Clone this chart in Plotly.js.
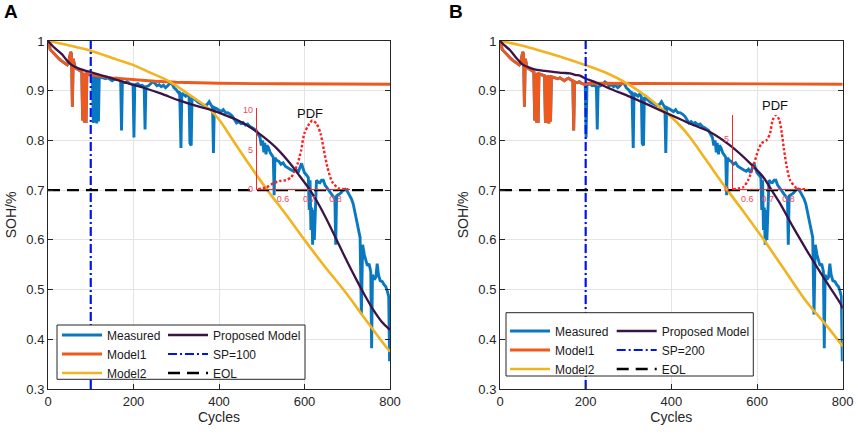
<!DOCTYPE html>
<html><head><meta charset="utf-8">
<script src="https://cdn.plot.ly/plotly-3.0.1.min.js"></script>
<style>html,body{margin:0;padding:0;background:#fff}#chart{width:858px;height:434px}</style>
</head><body><div id="chart"></div>
<script>
// ---------------- data ----------------
const measuredCycles = [0,3,5,8,12,16,20,25,30,35,40,45,48,51,53,55,57,59,61,63,66,70,75,79,81,83,85,87,89,91,95,100,
104,106,108,110,112,114,116,118,120,125,130,135,140,145,150,155,160,165,170,172,174,180,185,190,195,199,201,203,
210,215,220,225,227,229,235,240,245,250,255,260,265,270,275,280,285,290,295,300,305,308,311,313,318,322,326,330,
332,335,337,342,347,352,357,362,367,372,377,381,385,387,389,394,400,405,410,415,420,426,432,437,441,446,451,456,
462,467,472,477,482,487,492,496,499,502,505,507,510,512,516,520,524,527,529,531,535,540,545,550,555,560,565,570,
575,580,585,590,593,596,600,605,609,611,613,615,617,619,621,623,625,628,632,636,640,644,648,652,656,660,665,669,
671,673,675,677,682,686,690,695,700,705,710,714,718,722,726,730,733,736,740,743,747,751,755,757,759,763,767,770,
773,777,782,786,790,794,797,799,800];
const measuredSOH = [1.000,0.994,0.983,0.980,0.976,0.972,0.968,0.965,0.961,0.958,0.955,0.952,0.956,0.970,0.978,0.974,0.868,0.964,0.955,0.948,0.945,0.942,0.940,0.938,0.840,0.936,0.836,0.935,0.835,0.934,0.933,0.932,
0.930,0.835,0.930,0.836,0.931,0.834,0.930,0.838,0.928,0.927,0.925,0.924,0.926,0.922,0.920,0.923,0.925,0.922,0.920,0.820,0.918,0.916,0.918,0.915,0.913,0.912,0.806,0.912,
0.914,0.910,0.911,0.908,0.822,0.908,0.910,0.915,0.918,0.915,0.910,0.912,0.908,0.911,0.906,0.910,0.915,0.914,0.906,0.902,0.896,0.898,0.785,0.895,0.892,0.889,0.893,0.888,
0.794,0.790,0.887,0.884,0.880,0.876,0.874,0.873,0.870,0.872,0.878,0.872,0.866,0.775,0.866,0.864,0.860,0.858,0.862,0.856,0.856,0.853,0.848,0.842,0.835,0.838,0.834,0.836,
0.831,0.833,0.828,0.826,0.822,0.820,0.812,0.806,0.790,0.800,0.776,0.795,0.772,0.790,0.785,0.775,0.770,0.766,0.690,0.765,0.760,0.758,0.752,0.755,0.748,0.745,0.742,0.740,
0.738,0.742,0.735,0.748,0.754,0.745,0.735,0.730,0.725,0.660,0.720,0.620,0.665,0.590,0.660,0.600,0.665,0.720,0.716,0.715,0.720,0.720,0.710,0.705,0.700,0.695,0.690,0.685,
0.685,0.590,0.688,0.690,0.692,0.695,0.700,0.702,0.698,0.690,0.682,0.672,0.655,0.640,0.625,0.605,0.450,0.590,0.570,0.560,0.548,0.552,0.536,0.382,0.530,0.520,0.525,0.552,
0.530,0.518,0.516,0.510,0.506,0.496,0.486,0.356,0.465];

const startPoints = [100, 200];          // SP for panel A and B
const eolLevel = 0.7;

// Model1: forecast part after the start point
const model1ForecastA_x = [100,150,200,250,300,400,550,800];
const model1ForecastA_y = [0.932,0.926,0.922,0.919,0.917,0.915,0.914,0.913];
const model1ForecastB_x = [200,400,800];
const model1ForecastB_y = [0.915,0.914,0.913];

// Model2
const model2A_x = [0,50,98,160,199,240,285,332,379,400,433,472,513,555,600,645,691,735,777,800];
const model2A_y = [1.0,0.991,0.981,0.963,0.952,0.936,0.918,0.891,0.862,0.842,0.80,0.75,0.70,0.653,0.60,0.549,0.50,0.449,0.40,0.375];
const model2B_x = [0,50,100,150,198,250,296,340,381,420,443,480,531,570,611,660,716,760,800];
const model2B_y = [1.0,0.991,0.979,0.966,0.952,0.935,0.915,0.89,0.861,0.83,0.807,0.762,0.70,0.655,0.606,0.545,0.475,0.43,0.386];

// Proposed model
const proposedA_x = [0,12,25,33,44,55,71,85,102,125,149,190,227,265,305,345,383,414,440,470,504,535,566,589,613,636,660,683,700,722,740,761,780,800];
const proposedA_y = [1.0,0.989,0.979,0.973,0.961,0.952,0.945,0.941,0.937,0.931,0.925,0.914,0.905,0.894,0.881,0.87,0.861,0.851,0.842,0.828,0.807,0.784,0.754,0.728,0.70,0.667,0.627,0.586,0.556,0.519,0.49,0.459,0.436,0.419];
const proposedB_x = [0,12,23,38,54,70,86,105,124,145,163,175,188,198,226,260,303,340,381,420,443,490,537,584,614,634,654,684,716,754,794,800];
const proposedB_y = [1.0,0.99,0.982,0.966,0.952,0.946,0.942,0.94,0.938,0.936,0.935,0.932,0.93,0.925,0.916,0.903,0.888,0.874,0.858,0.843,0.834,0.817,0.79,0.754,0.727,0.70,0.673,0.626,0.579,0.526,0.473,0.462];

// PDF insets
const pdfA_x = [0.506,0.537,0.563,0.587,0.612,0.631,0.643,0.656,0.669,0.681,0.70,0.712,0.728,0.743,0.756,0.769,0.787,0.812,0.849];
const pdfA_y = [0,0.25,0.75,1.04,1.16,1.5,2.2,3.25,4.9,7.0,8.25,8.66,8.25,7.0,4.9,2.8,0.95,0.12,0];
const pdfB_x = [0.532,0.58,0.605,0.629,0.654,0.67,0.695,0.711,0.724,0.74,0.756,0.768,0.779,0.792,0.808,0.841,0.89];
const pdfB_y = [0,0.2,0.93,2.26,3.93,4.6,4.93,5.6,6.93,7.43,6.93,5.6,3.93,2.26,0.93,0.1,0];

const xTicks = [0,200,400,600,800];
const yTicks = [0.3,0.4,0.5,0.6,0.7,0.8,0.9,1];
const pdfTicksX = [0.6,0.7,0.8];
const pdfTicksYA = [0,5,10];
const pdfTicksYB = [0,5];

// ---------------- styling ----------------
const W = 858, H = 434;
const px = v => v / W;
const py = v => 1 - v / H;
const C = {meas:'#0A78C0', m1:'#EE5A1E', m2:'#F2B320', prop:'#3A1445', sp:'#0014F0', eol:'#000000', pdf:'#FF1E1E'};
const FONT = 'Liberation Sans, Arial, Helvetica, sans-serif';

function measuredUpTo(sp){
  const xs=[], ys=[];
  measuredCycles.forEach((c,i)=>{ if(c<=sp){ xs.push(c); ys.push(measuredSOH[i]); } });
  return [xs, ys];
}

function panelTraces(k){
  const ax = k===0 ? 'x' : 'x2', ay = k===0 ? 'y' : 'y2';
  const lg1 = k===0 ? 'legend' : 'legend3', lg2 = k===0 ? 'legend2' : 'legend4';
  const sp = startPoints[k];
  const [hx, hy] = measuredUpTo(sp);
  const fx = k===0 ? model1ForecastA_x : model1ForecastB_x;
  const fy = k===0 ? model1ForecastA_y : model1ForecastB_y;
  return [
    {x:measuredCycles, y:measuredSOH, name:'Measured', legend:lg1, xaxis:ax, yaxis:ay, mode:'lines', line:{color:C.meas, width:2.9}},
    {x:hx.concat(fx), y:hy.concat(fy), name:'Model1', legend:lg1, xaxis:ax, yaxis:ay, mode:'lines', line:{color:C.m1, width:2.8}},
    {x:k===0?model2A_x:model2B_x, y:k===0?model2A_y:model2B_y, name:'Model2', legend:lg1, xaxis:ax, yaxis:ay, mode:'lines', line:{color:C.m2, width:2.6, shape:'spline', smoothing:1}},
    {x:k===0?proposedA_x:proposedB_x, y:k===0?proposedA_y:proposedB_y, name:'Proposed Model', legend:lg2, xaxis:ax, yaxis:ay, mode:'lines', line:{color:C.prop, width:2.3, shape:'spline', smoothing:0.8}},
    {x:[sp, sp], y:[yTicks[0], yTicks[yTicks.length-1]], name:'SP='+sp, legend:lg2, xaxis:ax, yaxis:ay, mode:'lines', line:{color:C.sp, width:2.2, dash:'9px,3px,2px,3px'}},
    {x:[xTicks[0], xTicks[xTicks.length-1]], y:[eolLevel, eolLevel], name:'EOL', legend:lg2, xaxis:ax, yaxis:ay, mode:'lines', line:{color:C.eol, width:2.4, dash:'12px,7px'}}
  ];
}

const data = panelTraces(0).concat(panelTraces(1)).concat([
  {x:pdfA_x, y:pdfA_y, xaxis:'x3', yaxis:'y3', mode:'lines', showlegend:false, name:'PDF', line:{color:C.pdf, width:2.4, dash:'2.5px,2px', shape:'spline', smoothing:0.7}},
  {x:pdfB_x, y:pdfB_y, xaxis:'x4', yaxis:'y4', mode:'lines', showlegend:false, name:'PDF', line:{color:C.pdf, width:2.4, dash:'2.5px,2px', shape:'spline', smoothing:0.7}}
]);

function mainX(dom, anchor){
  return {domain:dom, anchor:anchor, range:[0,800], tickvals:xTicks, ticks:'inside', ticklen:5, tickcolor:'#262626',
    showline:true, mirror:'ticks', linecolor:'#262626', linewidth:1, showgrid:true, gridcolor:'#E4E4E4', zeroline:false,
    tickfont:{size:13, color:'#262626'}, title:{text:'Cycles', font:{size:14, color:'#262626'}, standoff:4}};
}
function mainY(dom, anchor){
  return {domain:dom, anchor:anchor, range:[0.3,1], tickvals:yTicks, ticks:'inside', ticklen:5, tickcolor:'#262626',
    showline:true, mirror:'ticks', linecolor:'#262626', linewidth:1, showgrid:true, gridcolor:'#E4E4E4', zeroline:false,
    tickfont:{size:13, color:'#262626'}, title:{text:'SOH/%', font:{size:14, color:'#262626'}, standoff:6}};
}
function insetX(dom, anchor, range){
  return {domain:dom, anchor:anchor, range:range, tickvals:pdfTicksX, ticks:'', showline:true, linecolor:'#EE2A2A', linewidth:1,
    showgrid:false, zeroline:false, tickfont:{size:9, color:'#EE4A5E'}, ticklabelstandoff:1};
}
function insetY(dom, anchor, range, tv){
  return {domain:dom, anchor:anchor, range:range, tickvals:tv, ticks:'', showline:true, linecolor:'#EE2A2A', linewidth:1,
    showgrid:false, zeroline:false, tickfont:{size:9, color:'#EE4A5E'}, ticklabelstandoff:1};
}
function legendAt(left, top){
  return {x:px(left), y:py(top), xanchor:'left', yanchor:'top', bgcolor:'rgba(0,0,0,0)', borderwidth:0,
    itemwidth:40, font:{size:12, color:'#1a1a1a', family:FONT}, traceorder:'normal'};
}

const yDom = [py(389), py(41)];
const layout = {
  width:W, height:H, margin:{l:0,r:0,t:0,b:0},
  paper_bgcolor:'#ffffff', plot_bgcolor:'rgba(0,0,0,0)',
  font:{family:FONT, color:'#262626'},
  showlegend:true,
  xaxis: mainX([px(48), px(390)], 'y'),
  yaxis: mainY(yDom, 'x'),
  xaxis2: mainX([px(500), px(842.7)], 'y2'),
  yaxis2: mainY(yDom, 'x2'),
  xaxis3: insetX([px(256.7), px(350)], 'y3', [0.5, 0.855]),
  yaxis3: insetY([py(189.3), py(108.3)], 'x3', [0, 10.2], pdfTicksYA),
  xaxis4: insetX([px(732.7), px(808)], 'y4', [0.53, 0.895]),
  yaxis4: insetY([py(189.3), py(115)], 'x4', [0, 7.43], pdfTicksYB),
  legend: legendAt(57, 320.5),
  legend2: legendAt(163, 320.5),
  legend3: legendAt(505, 316.5),
  legend4: legendAt(611.7, 316.5),
  shapes:[
    {type:'rect', xref:'paper', yref:'paper', x0:px(57), x1:px(305), y0:py(379.3), y1:py(325), fillcolor:'#ffffff', line:{color:'#262626', width:1}, layer:'above'},
    {type:'rect', xref:'paper', yref:'paper', x0:px(506), x1:px(753.3), y0:py(376), y1:py(312.7), fillcolor:'#ffffff', line:{color:'#262626', width:1}, layer:'above'}
  ],
  annotations:[
    {text:'<b>A</b>', xref:'paper', yref:'paper', x:px(2), y:py(12), xanchor:'left', yanchor:'middle', showarrow:false, font:{size:19, color:'#000', family:FONT}},
    {text:'<b>B</b>', xref:'paper', yref:'paper', x:px(447), y:py(12), xanchor:'left', yanchor:'middle', showarrow:false, font:{size:19, color:'#000', family:FONT}},
    {text:'PDF', xref:'paper', yref:'paper', x:px(310), y:py(113.5), xanchor:'center', yanchor:'middle', showarrow:false, font:{size:13, color:'#111', family:FONT}},
    {text:'PDF', xref:'paper', yref:'paper', x:px(775), y:py(105), xanchor:'center', yanchor:'middle', showarrow:false, font:{size:13, color:'#111', family:FONT}}
  ]
};

Plotly.newPlot('chart', data, layout, {staticPlot:true, displayModeBar:false});
</script></body></html>
